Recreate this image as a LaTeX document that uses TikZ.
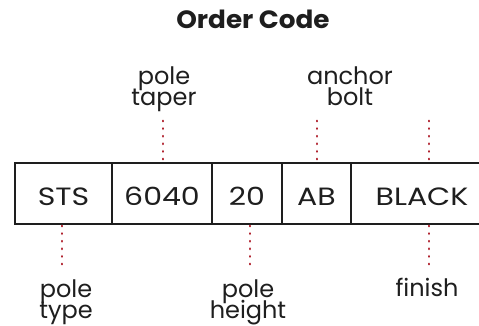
\documentclass[tikz,border=0pt]{standalone}
\usepackage{fontspec}
\setmainfont{Poppins}
\newfontfamily\cellfont[FakeStretch=1.2]{Poppins}
\newfontfamily\titlefont[FakeStretch=1.05]{Poppins}
\definecolor{ink}{HTML}{1E1E1E}
\definecolor{dotred}{HTML}{B0222E}
\begin{document}
\begin{tikzpicture}[x=1pt,y=-1pt,
  txt/.style={font=\fontsize{24}{21}\selectfont, text=ink},
  cell/.style={font=\cellfont\fontsize{25}{25}\selectfont, text=ink, draw=ink, line width=1.8pt, minimum height=61pt, inner sep=0pt, text height=23pt, text depth=0pt},
  lbl/.style={txt, align=center, inner sep=0pt, anchor=base},
  dotline/.style={draw=dotred, line width=2.5pt, line cap=round, dash pattern=on 0.4pt off 7.2pt},
]
\lineskiplimit=-30pt
\useasboundingbox (0,0) rectangle (479,325);
\clip (0,0) rectangle (479,325);
\fill[white] (0,0) rectangle (479,325);

\node[text=ink, font=\titlefont\fontsize{25}{25}\selectfont\bfseries, anchor=base, inner sep=0pt] (title) at (253,28) {Order Code};

\node[cell, minimum width=97pt]  (c1) at (63.5,193.5) {STS};
\node[cell, minimum width=100pt] (c2) at (162,193.5) {6040};
\node[cell, minimum width=70pt]  (c3) at (247,193.5) {20};
\node[cell, minimum width=69pt]  (c4) at (316.5,193.5) {AB};
\node[cell, minimum width=142pt] (c5) at (422,193.5) {BLACK};

\node[lbl] (ltaper) at (164,105) {pole\\taper};
\node[lbl] (lanchor) at (350,105) {anchor\\bolt};
\node[lbl] (ltype) at (66,318) {pole\\type};
\node[lbl] (lheight) at (248,318) {pole\\height};
\node[lbl] (lfinish) at (427,296) {finish};

\coordinate (t2) at (163,120.8);
\coordinate (t4) at (317,120.8);
\coordinate (t5) at (429,120.8);
\coordinate (b1) at (62,265.6);
\coordinate (b3) at (250,265.6);
\coordinate (b5) at (429,265.6);

\draw[dotline] (t2) -- (163,159.6);
\draw[dotline] (t4) -- (317,159.6);
\draw[dotline] (t5) -- (429,159.6);
\draw[dotline] (62,225.8) -- (b1);
\draw[dotline] (250,225.8) -- (b3);
\draw[dotline] (429,225.8) -- (b5);
\end{tikzpicture}
\end{document}
